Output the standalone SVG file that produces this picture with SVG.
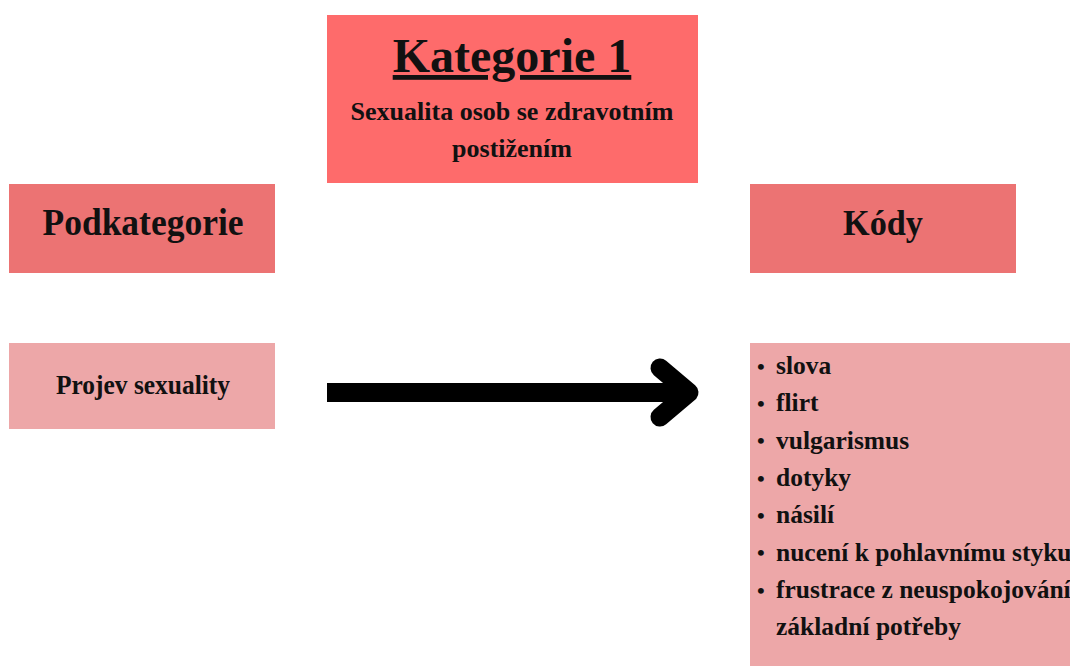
<svg xmlns="http://www.w3.org/2000/svg" width="1070" height="666" viewBox="0 0 1070 666">
<style>
  text { font-family: "Liberation Serif", "Times New Roman", serif; font-weight: bold; fill: #111; }
  .c { text-anchor: middle; }
  .head { fill: #ec7373; }
  .light { fill: #eda7a8; }
  .main { fill: #fe6b6b; }
  .li { font-size: 25.5px; }
  .b { font-size: 22px; }
</style>
<rect width="1070" height="666" fill="#ffffff"/>
<g id="kategorie">
  <rect class="main" x="327" y="15" width="371" height="168"/>
  <text class="c" x="512" y="72" font-size="48" text-decoration="underline">Kategorie 1</text>
  <text class="c" x="512" y="120" font-size="26">Sexualita osob se zdravotním</text>
  <text class="c" x="512" y="157" font-size="26">postižením</text>
</g>
<g id="podkategorie">
  <rect class="head" x="9" y="184" width="266" height="89"/>
  <text class="c" x="143" y="235" font-size="37" textLength="201" lengthAdjust="spacingAndGlyphs">Podkategorie</text>
</g>
<g id="kody">
  <rect class="head" x="750" y="184" width="266" height="89"/>
  <text class="c" x="883" y="235" font-size="36" textLength="80" lengthAdjust="spacingAndGlyphs">Kódy</text>
</g>
<g id="projev">
  <rect class="light" x="9" y="343" width="266" height="86"/>
  <text class="c" x="143" y="394" font-size="27" textLength="174" lengthAdjust="spacingAndGlyphs">Projev sexuality</text>
</g>
<g id="kody-list">
  <rect class="light" x="750" y="343" width="330" height="330"/>
  <text class="b" x="757" y="373.5">•</text><text class="li" x="776" y="374">slova</text>
  <text class="b" x="757" y="410.5">•</text><text class="li" x="776" y="411">flirt</text>
  <text class="b" x="757" y="448">•</text><text class="li" x="776" y="448.5">vulgarismus</text>
  <text class="b" x="757" y="485.5">•</text><text class="li" x="776" y="486">dotyky</text>
  <text class="b" x="757" y="522.5">•</text><text class="li" x="776" y="523">násilí</text>
  <text class="b" x="757" y="560">•</text><text class="li" x="776" y="560.5">nucení k pohlavnímu styku</text>
  <text class="b" x="757" y="597.5">•</text><text class="li" x="776" y="598">frustrace z neuspokojování</text>
  <text class="li" x="776" y="635">základní potřeby</text>
</g>
<g id="connectors">
  <line x1="327" y1="392.5" x2="688" y2="392.5" stroke="#000" stroke-width="19"/>
  <polyline points="660,368 689,392.5 660,417" fill="none" stroke="#000" stroke-width="19" stroke-linecap="round" stroke-linejoin="round"/>
</g>
</svg>
